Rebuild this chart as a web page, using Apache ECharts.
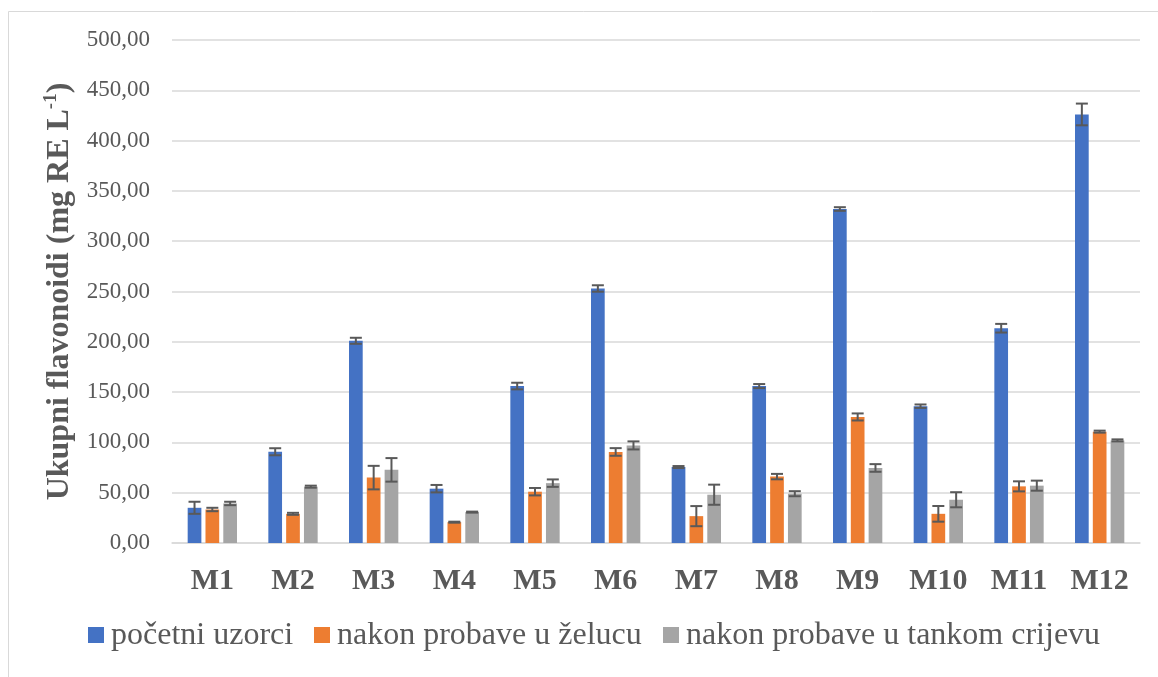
<!DOCTYPE html>
<html>
<head>
<meta charset="utf-8">
<script src="https://cdn.jsdelivr.net/npm/echarts@6/dist/echarts.min.js"></script>
<style>html,body{margin:0;padding:0;background:#fff}#c{width:1158px;height:677px}</style>
</head>
<body>
<div id="c"></div>
<script>
const categories = ['M1','M2','M3','M4','M5','M6','M7','M8','M9','M10','M11','M12'];
const seriesNames = ['početni uzorci','nakon probave u želucu','nakon probave u tankom crijevu'];
const initial   = [35, 90.7, 201, 54, 156, 253, 75.5, 156, 332, 136, 213.5, 426];
const stomach   = [33.3, 29, 65, 20.7, 51, 90.5, 26.7, 66, 125.3, 29, 56.3, 110.7];
const intestine = [39.3, 56, 72.7, 30.7, 59.5, 97, 48, 49, 74.6, 43, 57, 102];
const initialErr   = [6, 3.5, 3, 3.7, 3.3, 3.2, 1, 2, 1.8, 1.7, 4.3, 10.8];
const stomachErr   = [1.7, 1, 11.7, 0.5, 3.7, 3.8, 10, 2.7, 3.5, 7.8, 5, 1];
const intestineErr = [1.7, 1, 11.7, 0.5, 3.7, 4, 10, 2.5, 3.8, 7.5, 5, 1];
const yTicks = [0, 50, 100, 150, 200, 250, 300, 350, 400, 450, 500];

const colors = ['#4472C4', '#ED7D31', '#A5A5A5'];
const BAR_W = 13.7, BAR_GAP = 0.3;
const step = BAR_W * (1 + BAR_GAP);
const offsets = [-step, 0, step];
const values = [initial, stomach, intestine];
const errs = [initialErr, stomachErr, intestineErr];

const chart = echarts.init(document.getElementById('c'), null, {renderer: 'canvas'});
const serif = 'Liberation Serif';

function errSeries(k) {
  return {
    type: 'custom',
    name: seriesNames[k] + ' err',
    z: 10,
    silent: true,
    encode: {x: 0, y: [1, 2]},
    data: values[k].map((v, i) => [i, v - errs[k][i], v + errs[k][i]]),
    renderItem: function (params, api) {
      const idx = api.value(0);
      const lo = api.coord([idx, api.value(1)]);
      const hi = api.coord([idx, api.value(2)]);
      const x = lo[0] + offsets[k];
      const cw = 6;
      const st = {stroke: '#595959', lineWidth: 2};
      return {
        type: 'group',
        children: [
          {type: 'line', shape: {x1: x, y1: lo[1], x2: x, y2: hi[1]}, style: st},
          {type: 'line', shape: {x1: x - cw, y1: lo[1], x2: x + cw, y2: lo[1]}, style: st},
          {type: 'line', shape: {x1: x - cw, y1: hi[1], x2: x + cw, y2: hi[1]}, style: st}
        ]
      };
    }
  };
}

const barSeries = values.map((arr, k) => ({
  type: 'bar',
  name: seriesNames[k],
  data: arr,
  barWidth: BAR_W,
  barGap: (BAR_GAP * 100) + '%',
  itemStyle: {color: colors[k]}
}));

// legend drawn as graphic elements (icon + real text) so the serif font is honoured
const legendIconX = [88, 314, 663];
const legendGraphics = [];
seriesNames.forEach((n, k) => {
  legendGraphics.push({
    type: 'rect', silent: true,
    shape: {x: legendIconX[k], y: 627, width: 16, height: 16},
    style: {fill: colors[k]}
  });
  legendGraphics.push({
    type: 'text', silent: true,
    x: legendIconX[k] + 23, y: 636,
    style: {
      text: n, fill: '#595959',
      font: 'normal 32px "Liberation Serif", "Times New Roman", serif',
      align: 'left', verticalAlign: 'middle'
    }
  });
});

chart.setOption({
  animation: false,
  backgroundColor: '#fff',
  color: colors,
  textStyle: {fontFamily: serif, color: '#595959'},
  graphic: [{
    type: 'rect', silent: true, z: -10,
    shape: {x: 8.5, y: 11.5, width: 1200, height: 700},
    style: {fill: 'none', stroke: '#d9d9d9', lineWidth: 1}
  }].concat(legendGraphics),
  grid: {left: 172, right: 18, top: 40, bottom: 134, containLabel: false},
  xAxis: {
    type: 'category',
    data: categories,
    axisLine: {lineStyle: {color: '#d9d9d9', width: 1.5}},
    axisTick: {show: false},
    axisLabel: {fontFamily: serif, fontSize: 30, fontWeight: 'bold', color: '#595959', margin: 23}
  },
  yAxis: {
    type: 'value',
    min: yTicks[0], max: yTicks[yTicks.length - 1], interval: yTicks[1] - yTicks[0],
    axisLine: {show: false},
    axisTick: {show: false},
    splitLine: {lineStyle: {color: '#d9d9d9', width: 1.5}},
    axisLabel: {
      fontFamily: serif, fontSize: 23, color: '#595959', margin: 22,
      formatter: v => v.toFixed(2).replace('.', ',')
    },
    name: 'Ukupni flavonoidi (mg RE L{sup|-1})',
    nameLocation: 'middle',
    nameGap: 84,
    nameRotate: 90,
    nameTextStyle: {
      fontFamily: serif, fontSize: 32, fontWeight: 'bold', color: '#595959',
      rich: {
        sup: {fontFamily: serif, fontSize: 19, fontWeight: 'bold', color: '#595959', verticalAlign: 'top', lineHeight: 36}
      }
    }
  },
  series: barSeries.concat([errSeries(0), errSeries(1), errSeries(2)])
});
</script>
</body>
</html>
